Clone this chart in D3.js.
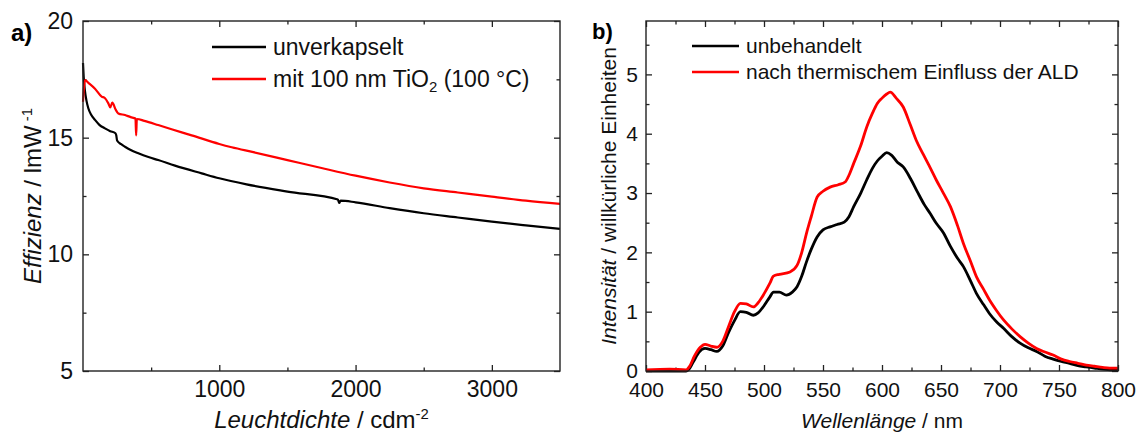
<!DOCTYPE html>
<html>
<head>
<meta charset="utf-8">
<script src="https://cdn.jsdelivr.net/npm/d3@7"></script>
<style>
  body { margin: 0; background: #fff; }
  svg { display: block; font-family: 'Liberation Sans', Arial, sans-serif; }
</style>
</head>
<body>
<div id="chart"></div>
<script>
// a) Effizienz vs. Leuchtdichte
const effBlack = [
  [0, 18.2], [5, 17.6], [15, 16.97], [25, 16.6], [39, 16.26], [60, 15.98], [88, 15.76],
  [120, 15.55], [161, 15.4], [200, 15.28], [238, 15.19], [244, 15.1], [250, 14.88],
  [280, 14.72], [308, 14.61], [350, 14.47], [406, 14.33], [480, 14.17], [552, 14.04],
  [675, 13.8], [871, 13.47], [1000, 13.26], [1200, 13.0], [1500, 12.69], [1870, 12.35],
  [1880, 12.2], [1890, 12.3], [2000, 12.23], [2250, 11.98], [2500, 11.76], [2750, 11.58],
  [3000, 11.4], [3250, 11.24], [3500, 11.09]
]
const effRed = [
  [0, 16.54], [8, 17.2], [15, 17.47], [40, 17.35], [88, 17.1], [137, 16.76], [160, 16.7],
  [186, 16.47], [200, 16.3], [215, 16.5], [240, 16.2], [259, 16.04], [308, 15.97],
  [350, 15.88], [385, 15.82], [390, 15.1], [395, 15.8], [450, 15.72], [552, 15.54],
  [650, 15.36], [797, 15.1], [1000, 14.73], [1091, 14.59], [1250, 14.38], [1500, 14.04],
  [1750, 13.7], [2000, 13.37], [2250, 13.08], [2500, 12.83], [2750, 12.65], [3000, 12.47],
  [3250, 12.3], [3500, 12.16]
]
const effXTicks = [1000, 2000, 3000]
const effXMinor = [500, 1500, 2500]
const effYTicks = [5, 10, 15, 20]
const effYMinor = [7.5, 12.5, 17.5]
const effLegend = ['unverkapselt', 'mit 100 nm TiO']

// b) Intensität vs. Wellenlänge
const specBlack = [
  [400, 0], [420, 0], [434, 0], [436, 0.02], [440, 0.15], [445, 0.32], [450, 0.38],
  [455, 0.36], [460, 0.33], [465, 0.42], [470, 0.65], [475, 0.85], [480, 1.0], [485, 0.99],
  [491, 0.94], [495, 0.98], [500, 1.1], [505, 1.25], [508, 1.33], [513, 1.33], [519, 1.28],
  [524, 1.33], [528, 1.42], [532, 1.6], [536, 1.84], [540, 2.05], [545, 2.26], [550, 2.38],
  [556, 2.43], [562, 2.47], [568, 2.51], [572, 2.6], [576, 2.77], [582, 3.0], [587, 3.22],
  [592, 3.42], [596, 3.54], [600, 3.62], [604, 3.68], [608, 3.64], [613, 3.52], [618, 3.44],
  [624, 3.25], [630, 3.02], [636, 2.8], [641, 2.65], [646, 2.49], [652, 2.33], [658, 2.1],
  [664, 1.9], [669, 1.76], [675, 1.52], [680, 1.31], [686, 1.12], [691, 0.97], [697, 0.83],
  [703, 0.72], [710, 0.58], [717, 0.47], [724, 0.39], [731, 0.33], [738, 0.25], [745, 0.2],
  [752, 0.16], [759, 0.13], [766, 0.09], [773, 0.07], [780, 0.05], [787, 0.03], [793, 0.02],
  [800, 0.01]
]
const specRed = [
  [400, 0.02], [420, 0.03], [434, 0.02], [437, 0.08], [441, 0.25], [446, 0.4], [450, 0.45],
  [455, 0.42], [460, 0.4], [465, 0.5], [470, 0.75], [475, 1.0], [480, 1.14], [485, 1.13],
  [491, 1.08], [495, 1.15], [500, 1.3], [505, 1.48], [508, 1.6], [513, 1.63], [522, 1.67],
  [528, 1.78], [532, 2.0], [536, 2.32], [540, 2.6], [545, 2.93], [550, 3.03], [556, 3.1],
  [563, 3.14], [569, 3.19], [572, 3.3], [576, 3.5], [582, 3.8], [587, 4.11], [592, 4.35],
  [596, 4.51], [600, 4.6], [604, 4.67], [607, 4.7], [612, 4.6], [618, 4.45], [624, 4.15],
  [629, 3.89], [635, 3.65], [641, 3.42], [646, 3.22], [652, 3.0], [658, 2.77], [664, 2.45],
  [669, 2.15], [675, 1.85], [680, 1.59], [686, 1.38], [691, 1.2], [697, 1.02], [703, 0.86],
  [710, 0.71], [717, 0.58], [724, 0.47], [731, 0.38], [738, 0.32], [745, 0.27], [752, 0.2],
  [759, 0.16], [766, 0.13], [773, 0.1], [780, 0.08], [787, 0.06], [793, 0.05], [800, 0.05]
]
const specXTicks = [400, 450, 500, 550, 600, 650, 700, 750, 800]
const specXMinor = [425, 475, 525, 575, 625, 675, 725, 775]
const specYTicks = [0, 1, 2, 3, 4, 5]
const specYMinor = [0.5, 1.5, 2.5, 3.5, 4.5, 5.5]
const specLegend = ['unbehandelt', 'nach thermischem Einfluss der ALD']

const W = 1138
const H = 435
const AXIS = '#222'

const svg = d3.select('#chart').append('svg')
  .attr('width', W)
  .attr('height', H)

svg.append('rect').attr('width', W).attr('height', H).attr('fill', '#fff')

function drawPanel (p) {
  const g = svg.append('g')
  const x = d3.scaleLinear().domain(p.xDomain).range([p.left, p.right])
  const y = d3.scaleLinear().domain(p.yDomain).range([p.bottom, p.top])

  // inward ticks on all four sides, labels only bottom/left
  const addAxis = (axisFn, scale, vals, size, pos, labels, pad) => {
    const a = g.append('g')
      .attr('transform', pos)
      .call(axisFn(scale).tickValues(vals).tickSize(-size).tickSizeOuter(0)
        .tickPadding(pad).tickFormat(labels ? d3.format('d') : ''))
    a.select('.domain').remove()
    a.selectAll('line').attr('stroke', AXIS).attr('stroke-width', 1.3)
    a.selectAll('text').attr('font-size', p.fs).attr('fill', '#111')
    return a
  }
  addAxis(d3.axisBottom, x, p.xTicks, 6, `translate(0,${p.bottom})`, true, p.xPad)
  addAxis(d3.axisBottom, x, p.xMinor, 3.5, `translate(0,${p.bottom})`, false, 0)
  addAxis(d3.axisTop, x, p.xTicks, 6, `translate(0,${p.top})`, false, 0)
  addAxis(d3.axisTop, x, p.xMinor, 3.5, `translate(0,${p.top})`, false, 0)
  addAxis(d3.axisLeft, y, p.yTicks, 6, `translate(${p.left},0)`, true, p.yPad)
  addAxis(d3.axisLeft, y, p.yMinor, 3.5, `translate(${p.left},0)`, false, 0)
  addAxis(d3.axisRight, y, p.yTicks, 6, `translate(${p.right},0)`, false, 0)
  addAxis(d3.axisRight, y, p.yMinor, 3.5, `translate(${p.right},0)`, false, 0)

  const line = d3.line()
    .x(d => x(d[0]))
    .y(d => y(d[1]))
    .curve(d3.curveMonotoneX)

  p.series.forEach(s => {
    g.append('path')
      .datum(s.data)
      .attr('fill', 'none')
      .attr('stroke', s.color)
      .attr('stroke-width', p.lw)
      .attr('stroke-linejoin', 'round')
      .attr('d', line)
  })

  g.append('rect')
    .attr('x', p.left).attr('y', p.top)
    .attr('width', p.right - p.left).attr('height', p.bottom - p.top)
    .attr('fill', 'none').attr('stroke', AXIS).attr('stroke-width', 1.4)

  // legend
  p.series.forEach((s, i) => {
    const ly = p.legend.y[i]
    g.append('line')
      .attr('x1', p.legend.x1).attr('x2', p.legend.x2)
      .attr('y1', ly).attr('y2', ly)
      .attr('stroke', s.color).attr('stroke-width', 2.5)
    const t = g.append('text')
      .attr('x', p.legend.tx).attr('y', ly).attr('dy', '0.35em')
      .attr('font-size', p.fs).attr('fill', '#111')
      .text(s.label)
    if (s.sub) {
      t.append('tspan').attr('dy', 5).attr('font-size', p.fs * 0.65).text(s.sub)
      t.append('tspan').attr('dy', -5).text(s.rest)
    }
  })

  // panel letter
  g.append('text')
    .attr('x', p.letter[0]).attr('y', p.letter[1])
    .attr('font-size', p.fs + 1).attr('font-weight', 'bold')
    .text(p.letterText)

  // axis titles
  const xt = g.append('text')
    .attr('x', (p.left + p.right) / 2).attr('y', p.xTitleY)
    .attr('text-anchor', 'middle').attr('font-size', p.titleFs).attr('fill', '#111')
  xt.append('tspan').attr('font-style', 'italic').text(p.xTitle[0])
  xt.append('tspan').text(p.xTitle[1])
  if (p.xTitle[2]) xt.append('tspan').attr('dy', -9).attr('font-size', p.titleFs * 0.62).text(p.xTitle[2])

  const yt = g.append('text')
    .attr('transform', `translate(${p.yTitleX},${(p.top + p.bottom) / 2}) rotate(-90)`)
    .attr('text-anchor', 'middle').attr('font-size', p.titleFs).attr('fill', '#111')
  yt.append('tspan').attr('font-style', 'italic').text(p.yTitle[0])
  yt.append('tspan').text(p.yTitle[1])
  if (p.yTitle[2]) yt.append('tspan').attr('dy', -9).attr('font-size', p.titleFs * 0.62).text(p.yTitle[2])
}

drawPanel({
  left: 83, right: 560, top: 21, bottom: 371,
  xDomain: [0, 3500], yDomain: [5, 20],
  xTicks: effXTicks, xMinor: effXMinor, yTicks: effYTicks, yMinor: effYMinor,
  fs: 23, titleFs: 24, xPad: 10, yPad: 10, lw: 2.2,
  series: [
    { data: effBlack, color: '#000', label: effLegend[0] },
    { data: effRed, color: '#ff0000', label: effLegend[1], sub: '2', rest: ' (100 °C)' }
  ],
  legend: { x1: 212, x2: 266, tx: 273, y: [47, 79] },
  letter: [11, 41], letterText: 'a)',
  xTitle: ['Leuchtdichte', ' / cdm', '-2'], xTitleY: 428,
  yTitle: ['Effizienz', ' / lmW', ' -1'], yTitleX: 41
})

drawPanel({
  left: 646, right: 1118, top: 21, bottom: 371,
  xDomain: [400, 800], yDomain: [0, 5.9],
  xTicks: specXTicks, xMinor: specXMinor, yTicks: specYTicks, yMinor: specYMinor,
  fs: 21, titleFs: 21, xPad: 11, yPad: 8, lw: 2.8,
  series: [
    { data: specBlack, color: '#000', label: specLegend[0] },
    { data: specRed, color: '#ff0000', label: specLegend[1] }
  ],
  legend: { x1: 692, x2: 739, tx: 746, y: [46, 72] },
  letter: [592, 39], letterText: 'b)',
  xTitle: ['Wellenlänge', ' / nm'], xTitleY: 428,
  yTitle: ['Intensität', ' / willkürliche Einheiten'], yTitleX: 616
})
</script>
</body>
</html>
